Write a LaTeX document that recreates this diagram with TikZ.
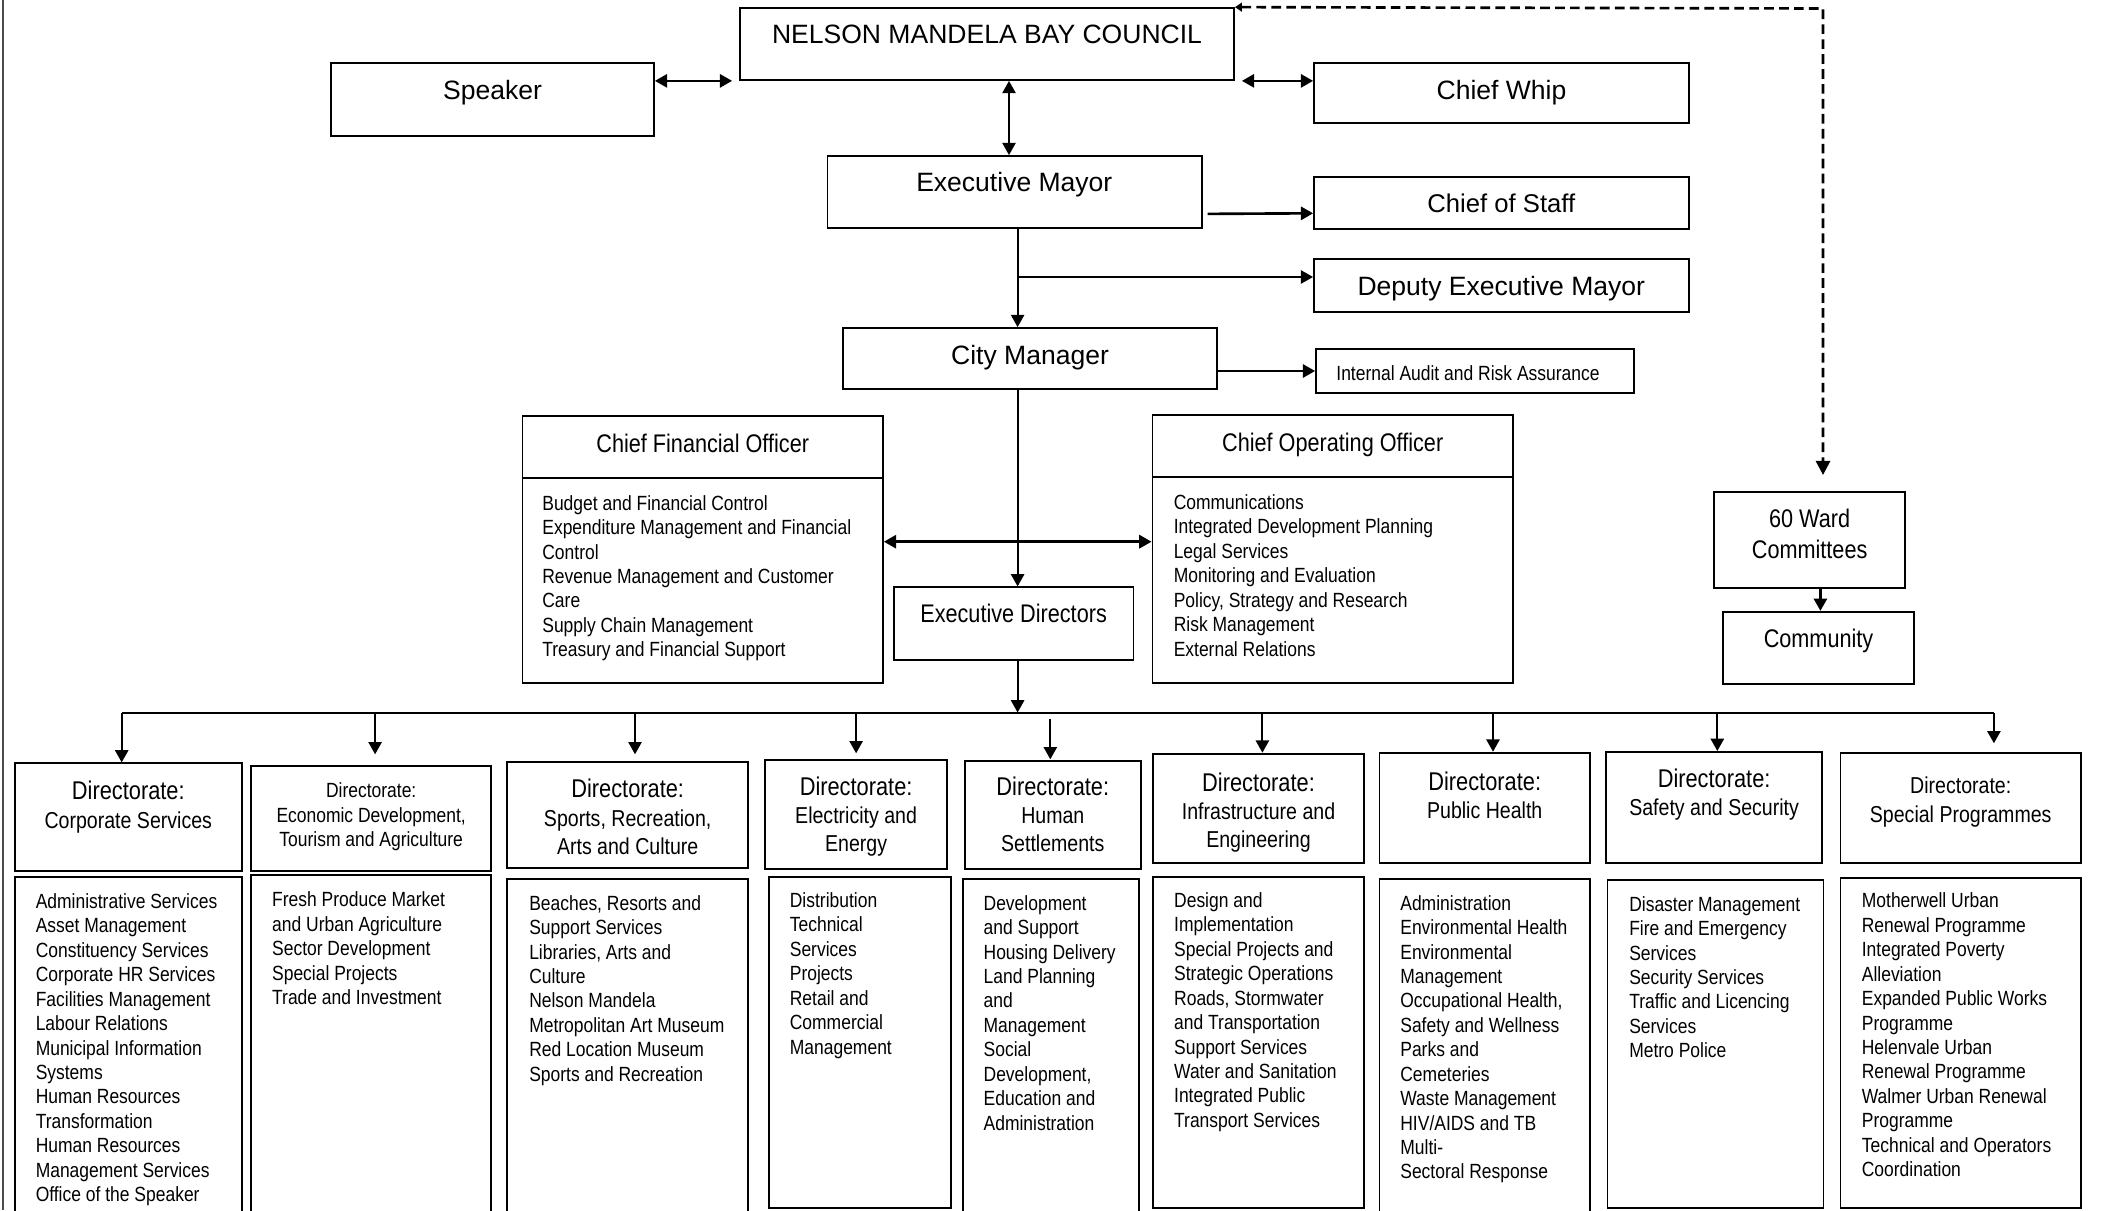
\documentclass[tikz,border=0pt]{standalone}
\usepackage{fontspec}
\setmainfont{Liberation Sans}
\newfontfamily\slimfont{Liberation Sans}[FakeStretch=0.85]
\usetikzlibrary{positioning,arrows.meta,fit,calc}
\tikzset{%
unit/.style={draw,rectangle,line width=1pt,inner sep=0pt},
title/.style={inner sep=0pt,anchor=north,align=center,font=\fontsize{15.1}{18}\selectfont},
slimtitle/.style={inner sep=0pt,anchor=north,align=center,font=\slimfont\fontsize{14.5}{18}\selectfont},
dirtitle/.style={inner sep=0pt,anchor=north,align=center,font=\slimfont\fontsize{13.1}{16}\selectfont},
duties/.style={inner sep=0pt,anchor=north west,align=left,font=\slimfont\fontsize{11.7}{13.9}\selectfont},
link/.style={line width=1.2pt,-{Triangle[length=7pt,width=7.5pt]}},
twoway/.style={line width=1.5pt,{Triangle[length=7pt,width=7.5pt]}-{Triangle[length=7pt,width=7.5pt]}},
wardlink/.style={line width=1.5pt,dash pattern=on 5.5pt off 3pt,{Triangle[length=4pt,width=5pt]}-{Triangle[length=8pt,width=8pt]}}
}
\newcommand{\dirbig}{\fontsize{14.6}{16}\selectfont}

\begin{document}
\begin{tikzpicture}[x=0.02cm,y=-0.02cm]
  \useasboundingbox (0,0) rectangle (2118,1210);
  \clip (0,0) rectangle (2118,1210);

  % page edge
  \draw[black!70,line width=0.6pt] (3,0) -- (3,1210);

  % council and political offices
  \node[unit,fit={(740,8) (1234,80)}] (council) {};
  \node[title] (council-t) at (987,25) {NELSON MANDELA BAY COUNCIL};
  \node[unit,fit={(331,63) (654,136)}] (speaker) {};
  \node[title] (speaker-t) at (492.5,80) {Speaker};
  \node[unit,fit={(1314,63) (1689,123)}] (whip) {};
  \node[title] (whip-t) at (1501.5,80) {Chief Whip};
  \node[unit,fit={(827.5,156) (1201.7,228)}] (mayor) {};
  \node[title] (mayor-t) at (1014.3,172.3) {Executive Mayor};
  \node[unit,fit={(1314,177) (1689,229)}] (staff) {};
  \node[title,font=\fontsize{14.6}{18}\selectfont] (staff-t) at (1501.3,194) {Chief of Staff};
  \node[unit,fit={(1314,259) (1689,312)}] (deputy) {};
  \node[title] (deputy-t) at (1501.3,276) {Deputy Executive Mayor};
  \node[unit,fit={(843,328) (1217,389)}] (manager) {};
  \node[title] (manager-t) at (1030,345) {City Manager};
  \node[unit,fit={(1316,349) (1634,393)}] (audit) {};
  \node[slimtitle,font=\slimfont\fontsize{11.7}{14}\selectfont] (audit-t) at (1468,365.7) {Internal Audit and Risk Assurance};

  % chief officers
  \node[unit,fit={(522.4,415.7) (883,478.3)}] (cfo) {};
  \node[unit,fit={(522.4,478.3) (883,683.3)}] (cfo-list) {};
  \node[slimtitle] (cfo-t) at (702.7,433.3) {Chief Financial Officer};
  \node[duties] (cfo-d) at (542,495) {Budget and Financial Control\\Expenditure Management and Financial\\Control\\Revenue Management and Customer\\Care\\Supply Chain Management\\Treasury and Financial Support};
  \node[unit,fit={(1152.4,415) (1513,476.7)}] (coo) {};
  \node[unit,fit={(1152.4,476.7) (1513,683.3)}] (coo-list) {};
  \node[slimtitle] (coo-t) at (1332.7,432.7) {Chief Operating Officer};
  \node[duties] (coo-d) at (1173.4,494.3) {Communications\\Integrated Development Planning\\Legal Services\\Monitoring and Evaluation\\Policy, Strategy and Research\\Risk Management\\External Relations};
  \node[unit,fit={(894,587.3) (1133.5,660)}] (execdir) {};
  \node[slimtitle] (execdir-t) at (1013.6,604) {Executive Directors};

  % ward committees
  \node[unit,fit={(1714.3,491.7) (1905.3,587.7)}] (ward) {};
  \node[slimtitle] (ward-t) at (1809.6,508.3) {60 Ward\\Committees};
  \node[unit,fit={(1723.2,611.7) (1914.2,684.3)}] (community) {};
  \node[slimtitle] (community-t) at (1818.5,628.3) {Community};

  % directorates
  \node[unit,fit={(14.7,763.3) (242,871)}] (corp) {};
  \node[unit,fit={(14.7,877.3) (242,1230)}] (corp-list) {};
  \node[dirtitle] (corp-t) at (128.3,781) {{\dirbig Directorate:}\\Corporate Services};
  \node[duties] (corp-d) at (35.4,893.3) {Administrative Services\\Asset Management\\Constituency Services\\Corporate HR Services\\Facilities Management\\Labour Relations\\Municipal Information\\Systems\\Human Resources\\Transformation\\Human Resources\\Management Services\\Office of the Speaker};

  \node[unit,fit={(251.1,766) (491.3,871)}] (econ) {};
  \node[unit,fit={(251.1,875) (491.3,1230)}] (econ-list) {};
  \node[dirtitle,font=\slimfont\fontsize{11.7}{13.7}\selectfont] (econ-t) at (371.2,782.7) {Directorate:\\Economic Development,\\Tourism and Agriculture};
  \node[duties] (econ-d) at (271.8,891.7) {Fresh Produce Market\\and Urban Agriculture\\Sector Development\\Special Projects\\Trade and Investment};

  \node[unit,fit={(507.3,761.7) (748.2,868.3)}] (sports) {};
  \node[unit,fit={(507.3,879.3) (748.2,1230)}] (sports-list) {};
  \node[dirtitle] (sports-t) at (627.7,779) {{\dirbig Directorate:}\\Sports, Recreation,\\Arts and Culture};
  \node[duties] (sports-d) at (528.9,895) {Beaches, Resorts and\\Support Services\\Libraries, Arts and\\Culture\\Nelson Mandela\\Metropolitan Art Museum\\Red Location Museum\\Sports and Recreation};

  \node[unit,fit={(765.2,760) (947,868.7)}] (elec) {};
  \node[unit,fit={(768.9,876.7) (951.1,1208)}] (elec-list) {};
  \node[dirtitle] (elec-t) at (856.1,776.7) {{\dirbig Directorate:}\\Electricity and\\Energy};
  \node[duties] (elec-d) at (789.5,892.3) {Distribution\\Technical\\Services\\Projects\\Retail and\\Commercial\\Management};

  \node[unit,fit={(964.9,760.7) (1140.8,869)}] (human) {};
  \node[unit,fit={(963,879) (1139,1230)}] (human-list) {};
  \node[dirtitle] (human-t) at (1052.8,776.7) {{\dirbig Directorate:}\\Human\\Settlements};
  \node[duties] (human-d) at (983.3,895) {Development\\and Support\\Housing Delivery\\Land Planning\\and\\Management\\Social\\Development,\\Education and\\Administration};

  \node[unit,fit={(1153.2,754.3) (1363.9,863.3)}] (infra) {};
  \node[unit,fit={(1153.2,876.7) (1363.9,1208)}] (infra-list) {};
  \node[dirtitle] (infra-t) at (1258.5,772.7) {{\dirbig Directorate:}\\Infrastructure and\\Engineering};
  \node[duties] (infra-d) at (1173.8,892.3) {Design and\\Implementation\\Special Projects and\\Strategic Operations\\Roads, Stormwater\\and Transportation\\Support Services\\Water and Sanitation\\Integrated Public\\Transport Services};

  \node[unit,fit={(1379.5,753.3) (1590,863.3)}] (health) {};
  \node[unit,fit={(1379.5,879) (1590,1230)}] (health-list) {};
  \node[dirtitle] (health-t) at (1484.7,771.7) {{\dirbig Directorate:}\\Public Health};
  \node[duties] (health-d) at (1400,895) {Administration\\Environmental Health\\Environmental\\Management\\Occupational Health,\\Safety and Wellness\\Parks and\\Cemeteries\\Waste Management\\HIV/AIDS and TB\\Multi-\\Sectoral Response};

  \node[unit,fit={(1606,751.7) (1822.2,862.7)}] (safety) {};
  \node[unit,fit={(1607.4,880) (1823.5,1208)}] (safety-list) {};
  \node[dirtitle] (safety-t) at (1714.1,768.3) {{\dirbig Directorate:}\\Safety and Security};
  \node[duties] (safety-d) at (1628.9,896) {Disaster Management\\Fire and Emergency\\Services\\Security Services\\Traffic and Licencing\\Services\\Metro Police};

  \node[unit,fit={(1840.5,753.3) (2080.9,863.3)}] (special) {};
  \node[unit,fit={(1840.5,877.7) (2080.9,1208)}] (special-list) {};
  \node[dirtitle,font=\slimfont\fontsize{13.1}{16.5}\selectfont] (special-t) at (1960.7,776) {Directorate:\\Special Programmes};
  \node[duties] (special-d) at (1861.5,892.7) {Motherwell Urban\\Renewal Programme\\Integrated Poverty\\Alleviation\\Expanded Public Works\\Programme\\Helenvale Urban\\Renewal Programme\\Walmer Urban Renewal\\Programme\\Technical and Operators\\Coordination};

  % connectors
  \coordinate (spine) at (1017.6,0);
  \draw[twoway] (speaker.east |- council.south) -- ($(council.south west)+(-7,0)$);
  \draw[twoway] ($(council.south east)+(7,0)$) -- (whip.west |- council.south east);
  \draw[twoway,line width=1.2pt] (council.south -| 1009,0) -- (mayor.north -| 1009,0);
  \draw[link] (mayor.south -| spine) -- (manager.north -| spine);
  \draw[link] (spine |- 0,277) -- (deputy.west |- 0,277);
  \draw[link,line width=1.5pt] ($(mayor.south east)+(5,-15)$) -- (staff.west |- 0,213.3);
  \draw[link,line width=1.5pt] (manager.east |- audit.west) -- (audit.west);
  \draw[link] (manager.south -| spine) -- (execdir.north -| spine);
  \draw[twoway] (cfo-list.east |- 0,541.7) -- (coo-list.west |- 0,541.7);
  \draw[link] (execdir.south -| spine) -- (spine |- 0,712.5);
  \draw[wardlink] (council.north east) -- (1823,8.5) -- (1823,475);
  \draw[link,line width=1.5pt] (ward.south -| 1820.4,0) -- (community.north -| 1820.4,0);

  % bus to the directorates
  \draw[line width=1.1pt] (121.7,713.3) -- (1993.9,713.3);
  \draw[link] (121.7,713.3) -- (corp.north -| 121.7,0);
  \draw[link] (375.1,713.3) -- (375.1,754.3);
  \draw[link] (635,713.3) -- (635,754.3);
  \draw[link] (856.1,713.3) -- (856.1,753.3);
  \draw[link] (1050.3,719) -- (1050.3,759.3);
  \draw[link] (1262.4,713.3) -- (1262.4,752.7);
  \draw[link] (1493,713.3) -- (1493,751.7);
  \draw[link] (1717.3,713.3) -- (1717.3,751);
  \draw[link] (1993.9,713.3) -- (1993.9,743.3);
\end{tikzpicture}
\end{document}
